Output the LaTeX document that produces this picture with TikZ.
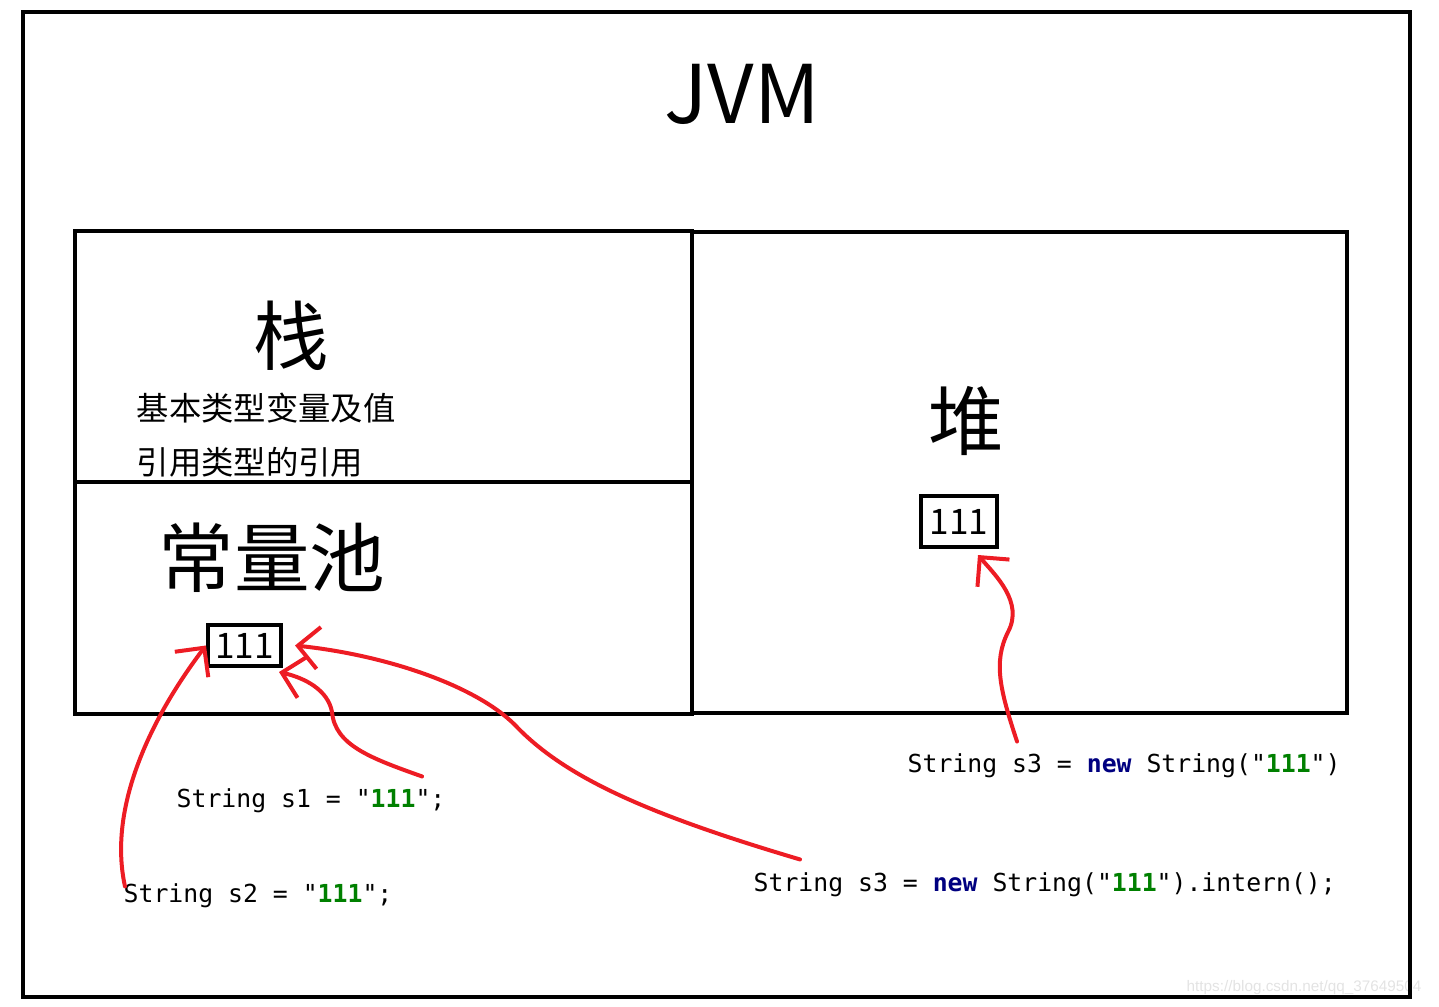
\documentclass[tikz,border=0pt]{standalone}
\usepackage{fontspec}
\setmainfont{Noto Sans CJK SC}
\newfontfamily\codefont{DejaVu Sans Mono}
\newfontfamily\markfont{Liberation Sans}
\usetikzlibrary{arrows.meta, calc, positioning}
\definecolor{penred}{HTML}{ED1C24}
\definecolor{kwblue}{HTML}{000080}
\definecolor{strgreen}{HTML}{008000}
\newcommand{\kwnew}{\textbf{\textcolor{kwblue}{new}}}
\newcommand{\strlit}[1]{"\textbf{\textcolor{strgreen}{#1}}"}

\begin{document}
\begin{tikzpicture}[
    x=0.01cm, y=-0.01cm,
    >={Straight Barb[length=2.1mm,width=4.2mm]},
    wall/.style={line width=0.04cm},
    bigcn/.style={font=\fontsize{21.5pt}{24pt}\selectfont, inner sep=0pt},
    smallcn/.style={font=\fontsize{9.2pt}{11pt}\selectfont, inner sep=0pt, anchor=west},
    valbox/.style={draw, line width=0.04cm, inner sep=0pt,
                   font=\fontsize{10pt}{12pt}\selectfont},
    codeline/.style={font=\codefont\fontsize{7.05pt}{9pt}\selectfont,
                     inner sep=0pt, anchor=base west},
    redpen/.style={penred, line width=0.04cm, line cap=round, ->},
]
\useasboundingbox (0,0) rectangle (1439,1007);
% faint blog watermark, under the frame
\node[font=\markfont\fontsize{4.35pt}{6pt}\selectfont, text=gray!22,
      anchor=base west, inner sep=0pt] (wmark) at (1186,992)
   {https://blog.csdn.net/qq\_37649504};
% JVM frame
\draw[wall] (23,12) rectangle (1410,997);
\node[font=\fontsize{23pt}{26pt}\selectfont, inner sep=0pt, anchor=base] (jvm)
   at (742,124) {JVM};
% stack + constant pool (left) and heap (right)
\draw[wall] (75,231) rectangle (692,482);
\draw[wall] (75,482) rectangle (692,714);
\draw[wall] (692,232) rectangle (1347,713);
\node[bigcn] (stack) at (291,336) {栈};
\node[smallcn] (prim) at (136,408) {基本类型变量及值};
\node[smallcn] (refs) at (136,462) {引用类型的引用};
\node[bigcn] (pool) at (272,558) {常量池};
\node[bigcn] (heap) at (966,421) {堆};
% the "111" objects
\node[valbox, minimum width=0.73cm, minimum height=0.41cm] (pool111)
   at (244.5,645.5) {111};
\node[valbox, minimum width=0.76cm, minimum height=0.51cm] (heap111)
   at (959,521.5) {111};
% code lines
\node[codeline] (s1) at (176,808) {String s1 = \strlit{111};};
\node[codeline] (s2) at (123,903) {String s2 = \strlit{111};};
\node[codeline] (heapcode) at (907,773) {String s3 = \kwnew{} String(\strlit{111})};
\node[codeline] (intern) at (753,892) {String s3 = \kwnew{} String(\strlit{111}).intern();};
% hand drawn red pointers
\draw[redpen] ([shift={(2,3)}]s2.north west)
   .. controls (106,800) and (160,706) .. (pool111.west);
\draw[redpen] ([shift={(-24,-12)}]s1.north east)
   .. controls (370,758) and (335,745) .. (332,712)
   .. controls (328,690) and (305,678) .. ([shift={(-4,4)}]pool111.south east);
\draw[redpen] ([shift={(47,-13)}]intern.north west)
   .. controls (650,815) and (565,778) .. (515,725)
   .. controls (475,685) and (385,655) .. ([xshift=0.12cm]pool111.east);
\draw[redpen] ([shift={(110,-12)}]heapcode.north west)
   .. controls (1000,690) and (993,662) .. (1008,632)
   .. controls (1024,602) and (995,575) .. ([shift={(19,6)}]heap111.south);
\end{tikzpicture}
\end{document}
